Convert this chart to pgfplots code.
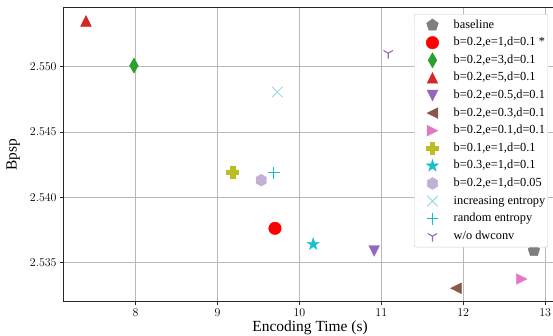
\documentclass[border=0pt]{standalone}
\usepackage{pgfplots}
\pgfplotsset{compat=1.18}
\usepackage{fontspec}
\setmainfont{Liberation Serif}
\usetikzlibrary{plotmarks}

\definecolor{cgray}{HTML}{7F7F7F}
\definecolor{cred}{HTML}{FF0000}
\definecolor{cgreen}{HTML}{2CA02C}
\definecolor{ctred}{HTML}{D62728}
\definecolor{cpurple}{HTML}{9467BD}
\definecolor{cbrown}{HTML}{8C564B}
\definecolor{cpink}{HTML}{E377C2}
\definecolor{colive}{HTML}{BCBD22}
\definecolor{ccyan}{HTML}{17BECF}
\definecolor{clav}{HTML}{C5B0D5}
\definecolor{clblue}{HTML}{9EDAE5}

\pgfdeclareplotmark{mtri*}{%
 \pgfpathmoveto{\pgfqpoint{0pt}{\pgfplotmarksize}}%
 \pgfpathlineto{\pgfqpoint{-\pgfplotmarksize}{-\pgfplotmarksize}}%
 \pgfpathlineto{\pgfqpoint{\pgfplotmarksize}{-\pgfplotmarksize}}%
 \pgfpathclose\pgfusepathqfillstroke}
\pgfdeclareplotmark{hexa*}{%
 \pgfpathmoveto{\pgfpointpolar{90}{\pgfplotmarksize}}%
 \pgfpathlineto{\pgfpointpolar{150}{\pgfplotmarksize}}%
 \pgfpathlineto{\pgfpointpolar{210}{\pgfplotmarksize}}%
 \pgfpathlineto{\pgfpointpolar{270}{\pgfplotmarksize}}%
 \pgfpathlineto{\pgfpointpolar{330}{\pgfplotmarksize}}%
 \pgfpathlineto{\pgfpointpolar{30}{\pgfplotmarksize}}%
 \pgfpathclose\pgfusepathqfillstroke}
\pgfdeclareplotmark{fstar}{%
 \pgfpathmoveto{\pgfpointpolar{90}{\pgfplotmarksize}}%
 \pgfpathlineto{\pgfpointpolar{126}{0.382\pgfplotmarksize}}%
 \pgfpathlineto{\pgfpointpolar{162}{\pgfplotmarksize}}%
 \pgfpathlineto{\pgfpointpolar{198}{0.382\pgfplotmarksize}}%
 \pgfpathlineto{\pgfpointpolar{234}{\pgfplotmarksize}}%
 \pgfpathlineto{\pgfpointpolar{270}{0.382\pgfplotmarksize}}%
 \pgfpathlineto{\pgfpointpolar{306}{\pgfplotmarksize}}%
 \pgfpathlineto{\pgfpointpolar{342}{0.382\pgfplotmarksize}}%
 \pgfpathlineto{\pgfpointpolar{18}{\pgfplotmarksize}}%
 \pgfpathlineto{\pgfpointpolar{54}{0.382\pgfplotmarksize}}%
 \pgfpathclose\pgfusepathqfillstroke}
\pgfdeclareplotmark{thickplus}{%
 \pgfpathmoveto{\pgfqpoint{-0.36\pgfplotmarksize}{\pgfplotmarksize}}%
 \pgfpathlineto{\pgfqpoint{0.36\pgfplotmarksize}{\pgfplotmarksize}}%
 \pgfpathlineto{\pgfqpoint{0.36\pgfplotmarksize}{0.36\pgfplotmarksize}}%
 \pgfpathlineto{\pgfqpoint{\pgfplotmarksize}{0.36\pgfplotmarksize}}%
 \pgfpathlineto{\pgfqpoint{\pgfplotmarksize}{-0.36\pgfplotmarksize}}%
 \pgfpathlineto{\pgfqpoint{0.36\pgfplotmarksize}{-0.36\pgfplotmarksize}}%
 \pgfpathlineto{\pgfqpoint{0.36\pgfplotmarksize}{-\pgfplotmarksize}}%
 \pgfpathlineto{\pgfqpoint{-0.36\pgfplotmarksize}{-\pgfplotmarksize}}%
 \pgfpathlineto{\pgfqpoint{-0.36\pgfplotmarksize}{-0.36\pgfplotmarksize}}%
 \pgfpathlineto{\pgfqpoint{-\pgfplotmarksize}{-0.36\pgfplotmarksize}}%
 \pgfpathlineto{\pgfqpoint{-\pgfplotmarksize}{0.36\pgfplotmarksize}}%
 \pgfpathlineto{\pgfqpoint{-0.36\pgfplotmarksize}{0.36\pgfplotmarksize}}%
 \pgfpathclose\pgfusepathqfillstroke}
\pgfdeclareplotmark{tridown}{%
 \pgfpathmoveto{\pgfpointorigin}\pgfpathlineto{\pgfqpoint{0pt}{-\pgfplotmarksize}}%
 \pgfpathmoveto{\pgfpointorigin}\pgfpathlineto{\pgfpointpolar{150}{\pgfplotmarksize}}%
 \pgfpathmoveto{\pgfpointorigin}\pgfpathlineto{\pgfpointpolar{30}{\pgfplotmarksize}}%
 \pgfusepathqstroke}
\pgfdeclareplotmark{thindiamond*}{%
 \pgfpathmoveto{\pgfqpoint{0pt}{\pgfplotmarksize}}%
 \pgfpathlineto{\pgfqpoint{0.58\pgfplotmarksize}{0pt}}%
 \pgfpathlineto{\pgfqpoint{0pt}{-\pgfplotmarksize}}%
 \pgfpathlineto{\pgfqpoint{-0.58\pgfplotmarksize}{0pt}}%
 \pgfpathclose\pgfusepathqfillstroke}

\begin{document}
\begin{tikzpicture}
\useasboundingbox (-63.6bp,-34.4bp) rectangle (489.4bp,301.6bp);
\begin{axis}[
  at={(0,0)}, anchor=south west,
  scale only axis, width=493bp, height=294bp,
  xmin=7.12, xmax=13.14, ymin=2.53202, ymax=2.55452,
  xtick={8,9,10,11,12,13},
  ytick={2.535,2.540,2.545,2.550},
  scaled y ticks=false,
  yticklabel style={/pgf/number format/.cd, fixed, fixed zerofill, precision=3},
  tick label style={font=\fontsize{12.5}{14}\selectfont},
  xtick pos=lower, ytick pos=left,
  tick align=outside, major tick length=3.5bp,
  tick style={black!85, line width=0.8pt},
  axis line style={black!85, line width=0.8pt},
  grid=major,
  major grid style={black!28, line width=0.8pt},
  xlabel={Encoding Time (s)},
  ylabel={Bpsp},
  label style={font=\fontsize{15.5}{18}\selectfont},
  xlabel style={at={(axis description cs:0.5,-0.088)}, anchor=center},
  ylabel style={at={(axis description cs:-0.102,0.5)}, anchor=center},
  legend style={at={(0.9825,0.978)}, anchor=north east,
    draw=black!20, fill=white,
    rounded corners=2pt, font=\fontsize{12.4}{14}\selectfont,
    row sep=0pt, inner xsep=1.5bp, inner ysep=2bp,
    nodes={text height=9bp, text depth=3bp, inner ysep=2.8bp, inner xsep=1bp}},
  legend cell align=left,
  legend image code/.code={\path (0bp,0bp) (36.5bp,0bp);\draw[mark repeat=2,mark phase=2] plot coordinates {(0bp,0bp)(16.5bp,0bp)(36.5bp,0bp)};},
  only marks,
]
\addplot[mark=pentagon*, mark size=6.2pt, color=cgray] coordinates {(12.863,2.53592)};
\addlegendentry{baseline}
\addplot[mark=*, mark size=6.3pt, color=cred] coordinates {(9.701,2.53763)};
\addlegendentry{b=0.2,e=1,d=0.1 *}
\addplot[mark=thindiamond*, mark size=7.6pt, color=cgreen] coordinates {(7.979,2.55008)};
\addlegendentry{b=0.2,e=3,d=0.1}
\addplot[mark=mtri*, mark size=5.4pt, color=ctred] coordinates {(7.393,2.5535)};
\addlegendentry{b=0.2,e=5,d=0.1}
\addplot[mark=mtri*, mark size=5.4pt, color=cpurple, mark options={rotate=180}] coordinates {(10.913,2.53590)};
\addlegendentry{b=0.2,e=0.5,d=0.1}
\addplot[mark=mtri*, mark size=5.4pt, color=cbrown, mark options={rotate=90}] coordinates {(11.911,2.53304)};
\addlegendentry{b=0.2,e=0.3,d=0.1}
\addplot[mark=mtri*, mark size=5.4pt, color=cpink, mark options={rotate=-90}] coordinates {(12.713,2.53375)};
\addlegendentry{b=0.2,e=0.1,d=0.1}
\addplot[mark=thickplus, mark size=6pt, color=colive] coordinates {(9.184,2.54194)};
\addlegendentry{b=0.1,e=1,d=0.1}
\addplot[mark=fstar, mark size=6.4pt, color=ccyan] coordinates {(10.168,2.53641)};
\addlegendentry{b=0.3,e=1,d=0.1}
\addplot[mark=hexa*, mark size=6pt, color=clav] coordinates {(9.534,2.54131)};
\addlegendentry{b=0.2,e=1,d=0.05}
\addplot[mark=x, mark size=7.5pt, color=clblue, mark options={line width=1pt}] coordinates {(9.729,2.54806)};
\addlegendentry{increasing entropy}
\addplot[mark=+, mark size=6pt, color=ccyan, mark options={line width=1pt}] coordinates {(9.689,2.54187)};
\addlegendentry{random entropy}
\addplot[mark=tridown, mark size=5.5pt, color=cpurple, mark options={line width=1.1pt}] coordinates {(11.084,2.55103)};
\addlegendentry{w/o dwconv}
\end{axis}
\end{tikzpicture}
\end{document}
